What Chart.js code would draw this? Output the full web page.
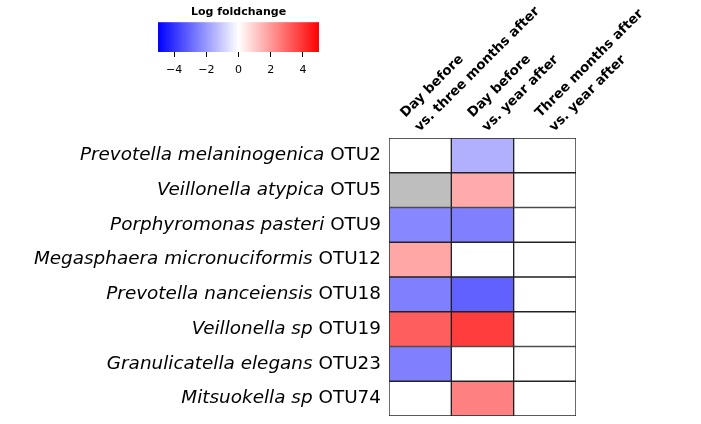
<!DOCTYPE html>
<html lang="en">
<head>
  <meta charset="UTF-8">
  <title>Log foldchange heatmap</title>
  <script src="https://cdn.jsdelivr.net/npm/chart.js"></script>
  <style>
    body { margin: 0; background: #fff; }
    #wrap { position: relative; width: 701px; height: 424px; }
    #heatmap { position: absolute; left: 0; top: 0; }
    #colorbar { position: absolute; left: 0; top: 0; }
  </style>
</head>
<body>
  <div id="wrap">
    <canvas id="heatmap" width="701" height="424"></canvas>
    <canvas id="colorbar" width="480" height="90"></canvas>
  </div>
  <script>
    const species = ['Prevotella melaninogenica', 'Veillonella atypica', 'Porphyromonas pasteri',
      'Megasphaera micronuciformis', 'Prevotella nanceiensis', 'Veillonella sp',
      'Granulicatella elegans', 'Mitsuokella sp'];
    const otus = ['OTU2', 'OTU5', 'OTU9', 'OTU12', 'OTU18', 'OTU19', 'OTU23', 'OTU74'];
    const comparisons = [
      ['Day before', 'vs. three months after'],
      ['Day before', 'vs. year after'],
      ['Three months after', 'vs. year after']
    ];
    // log fold change per comparison, null = not available (grey)
    const dayVsThreeMonths = [0, null, -2.35, 1.75, -2.5, 3.15, -2.5, 0];
    const dayVsYear = [-1.55, 1.65, -2.5, 0, -3.1, 3.8, 0, 2.5];
    const threeMonthsVsYear = [0, 0, 0, 0, 0, 0, 0, 0];
    const colorbarTicks = [-4, -2, 0, 2, 4];
    const colorLimit = 5;

    function foldColor(v) {
      if (v === null) return '#bebebe';
      const t = Math.min(Math.abs(v) / colorLimit, 1);
      const c = Math.round(255 * (1 - t));
      return v < 0 ? `rgb(${c},${c},255)` : `rgb(255,${c},${c})`;
    }

    const columnValues = [dayVsThreeMonths, dayVsYear, threeMonthsVsYear];

    // row labels: italic species name + upright OTU id
    const rowLabels = {
      id: 'rowLabels',
      afterDraw(chart) {
        const { ctx, chartArea } = chart;
        const yScale = chart.scales.y;
        ctx.save();
        ctx.fillStyle = '#000';
        ctx.textBaseline = 'middle';
        ctx.textAlign = 'right';
        species.forEach((name, i) => {
          const y = yScale.getPixelForValue(i);
          const xr = chartArea.left - 8;
          ctx.font = '18.4px "DejaVu Sans"';
          ctx.fillText(otus[i], xr, y);
          const w = ctx.measureText(' ' + otus[i]).width;
          ctx.font = 'italic 18.4px "DejaVu Sans"';
          ctx.fillText(name, xr - w, y);
        });
        ctx.restore();
      }
    };

    // slanted column headers above the grid (spread a little wider than the cells)
    const columnHeaders = {
      id: 'columnHeaders',
      afterDraw(chart) {
        const { ctx, chartArea } = chart;
        const xScale = chart.scales.x;
        ctx.save();
        ctx.fillStyle = '#000';
        ctx.font = 'bold 13.4px "DejaVu Sans"';
        ctx.textAlign = 'left';
        ctx.textBaseline = 'alphabetic';
        comparisons.forEach((lines, i) => {
          ctx.save();
          ctx.translate(xScale.getPixelForValue((i + 0.5) * 1.08) - 3, chartArea.top - 6);
          ctx.rotate(-Math.PI / 4);
          lines.forEach((line, j) => ctx.fillText(line, 0, (j - lines.length + 1) * 20));
          ctx.restore();
        });
        ctx.restore();
      }
    };

    new Chart(document.getElementById('heatmap'), {
      type: 'bar',
      data: {
        labels: species,
        datasets: columnValues.map(vals => ({
          data: vals.map(() => 1),
          backgroundColor: vals.map(foldColor),
          borderColor: '#222',
          borderWidth: 1,
          borderSkipped: false,
          barPercentage: 1,
          categoryPercentage: 1
        }))
      },
      options: {
        indexAxis: 'y',
        responsive: false,
        animation: false,
        layout: { padding: { left: 389, right: 125, bottom: 8, top: 0 } },
        plugins: { legend: { display: false }, tooltip: { enabled: false } },
        scales: {
          y: { type: 'category', stacked: true, display: false },
          x: {
            type: 'linear', position: 'top', stacked: true, min: 0, max: 3,
            grid: { display: false }, border: { display: false },
            afterFit: s => { s.height = 138; },
            ticks: { display: false }
          }
        }
      },
      plugins: [rowLabels, columnHeaders]
    });

    // colour key
    const gradientFill = {
      id: 'gradientFill',
      beforeDatasetsDraw(chart) {
        const { ctx, chartArea } = chart;
        const x = chart.scales.x;
        const g = ctx.createLinearGradient(x.getPixelForValue(-colorLimit), 0, x.getPixelForValue(colorLimit), 0);
        g.addColorStop(0, 'rgb(0,0,255)');
        g.addColorStop(0.5, 'rgb(255,255,255)');
        g.addColorStop(1, 'rgb(255,0,0)');
        ctx.save();
        ctx.fillStyle = g;
        ctx.fillRect(chartArea.left, chartArea.top, chartArea.right - chartArea.left, chartArea.bottom - chartArea.top);
        ctx.restore();
      }
    };

    new Chart(document.getElementById('colorbar'), {
      type: 'scatter',
      data: { datasets: [{ data: [] }] },
      options: {
        responsive: false,
        animation: false,
        layout: { padding: { left: 158, right: 161, top: 0, bottom: 13 } },
        plugins: {
          legend: { display: false },
          tooltip: { enabled: false },
          title: {
            display: true, text: 'Log foldchange', color: '#000',
            font: { family: 'DejaVu Sans', size: 11, weight: 'bold', lineHeight: 1.2 },
            padding: { top: 6, bottom: 3 }
          }
        },
        scales: {
          x: {
            type: 'linear', min: -colorLimit, max: colorLimit,
            afterBuildTicks: s => { s.ticks = colorbarTicks.map(v => ({ value: v })); },
            afterFit: s => { s.height = 25; },
            grid: { drawOnChartArea: false, drawTicks: true, tickLength: 5, color: '#000' },
            border: { display: false },
            ticks: {
              padding: 7, color: '#000', maxRotation: 0,
              font: { family: 'DejaVu Sans', size: 11 },
              callback: v => String(v).replace('-', '\u2212')
            }
          },
          y: { display: false, min: 0, max: 1 }
        }
      },
      plugins: [gradientFill]
    });
  </script>
</body>
</html>
